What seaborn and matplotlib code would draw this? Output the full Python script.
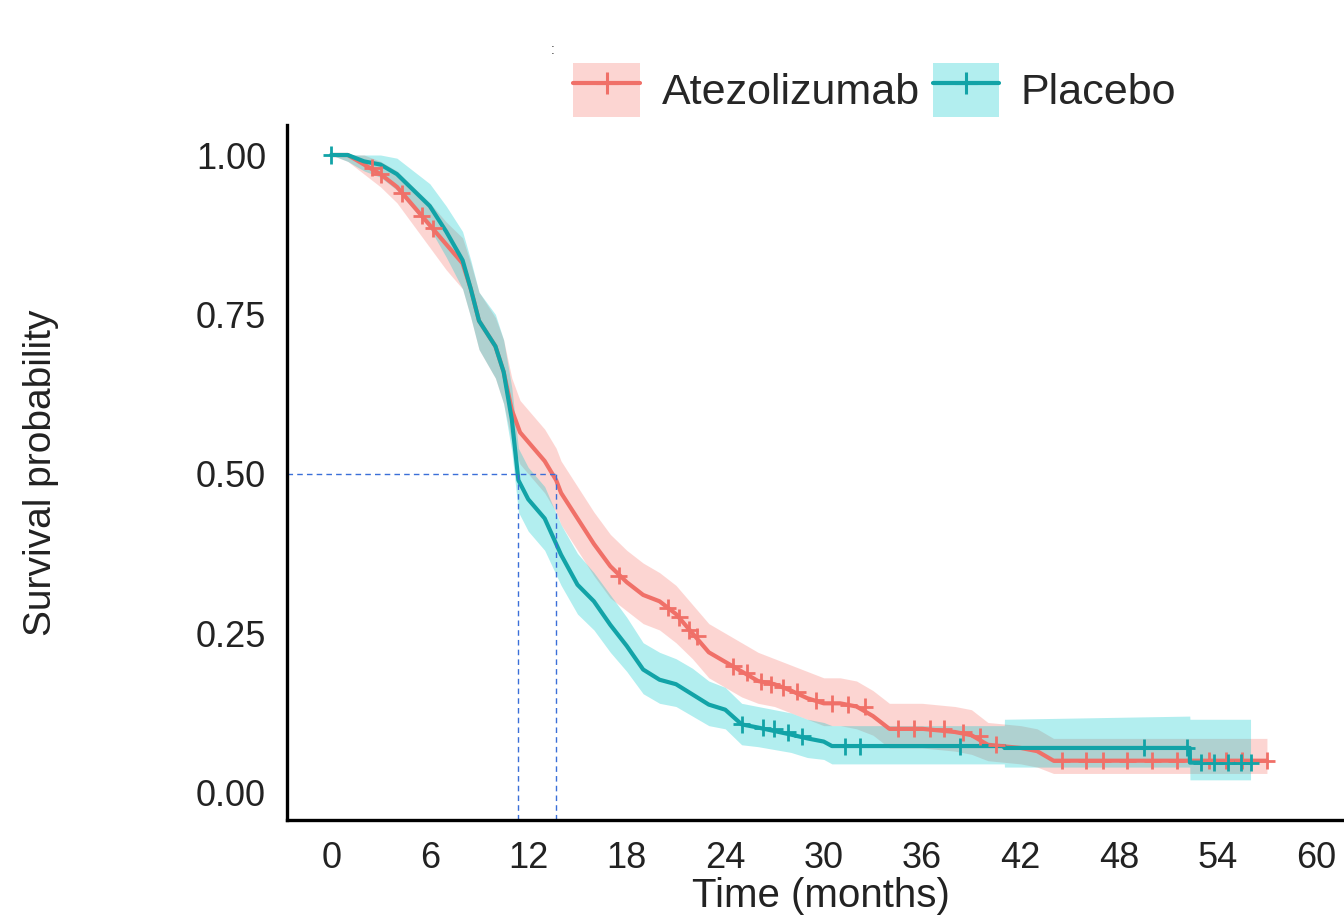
import numpy as np
import pandas as pd
import matplotlib
matplotlib.use("Agg")
import matplotlib.pyplot as plt
import seaborn as sns
from matplotlib.patches import Patch
from matplotlib.lines import Line2D

# --- data ---
groups = ["Atezolizumab", "Placebo"]
colors = {"Atezolizumab": "#F07068", "Placebo": "#12A3A7"}
band_colors = {"Atezolizumab": "#F8766D", "Placebo": "#00C8CC"}

atezo_t = [0, 1, 2, 3, 4, 5, 6, 7, 8, 8.5, 9, 10, 10.5, 11, 11.5, 12, 13, 13.7, 14, 15,
           16, 17, 18, 19, 20, 21, 22, 23, 24, 25, 26, 27, 28, 29, 30, 31, 32, 33, 34,
           36, 38, 39, 40, 42, 43, 44, 50, 57]
atezo_s = [1.0, 1.0, 0.985, 0.97, 0.95, 0.92, 0.89, 0.86, 0.83, 0.79, 0.74, 0.70, 0.66,
           0.60, 0.565, 0.55, 0.52, 0.49, 0.47, 0.43, 0.39, 0.355, 0.33, 0.31, 0.30, 0.28,
           0.25, 0.22, 0.205, 0.19, 0.175, 0.17, 0.16, 0.148, 0.14, 0.14, 0.135, 0.12,
           0.10, 0.10, 0.095, 0.09, 0.075, 0.07, 0.065, 0.05, 0.05, 0.05]
atezo_lo = [1.0, 0.99, 0.97, 0.95, 0.925, 0.89, 0.855, 0.82, 0.79, 0.745, 0.695, 0.65,
            0.61, 0.55, 0.515, 0.50, 0.47, 0.44, 0.42, 0.38, 0.34, 0.305, 0.285, 0.265,
            0.255, 0.235, 0.21, 0.18, 0.165, 0.15, 0.14, 0.135, 0.125, 0.115, 0.105,
            0.105, 0.10, 0.09, 0.07, 0.07, 0.065, 0.06, 0.05, 0.045, 0.04, 0.03, 0.03, 0.03]
atezo_hi = [1.0, 1.0, 1.0, 0.99, 0.975, 0.95, 0.925, 0.895, 0.87, 0.83, 0.785, 0.745,
            0.71, 0.65, 0.615, 0.60, 0.57, 0.54, 0.52, 0.48, 0.44, 0.405, 0.38, 0.36,
            0.345, 0.325, 0.295, 0.265, 0.25, 0.235, 0.22, 0.21, 0.20, 0.19, 0.18, 0.18,
            0.175, 0.16, 0.14, 0.14, 0.135, 0.13, 0.11, 0.105, 0.10, 0.085, 0.085, 0.085]

plac_t = [0, 1, 2, 3, 4, 5, 6, 7, 8, 8.5, 9, 10, 10.5, 11, 11.4, 12, 13, 14, 15, 16, 17,
          18, 19, 20, 21, 22, 23, 24, 25, 26, 28, 29, 30, 30.5, 41, 41.01, 52.3, 52.31, 56]
plac_s = [1.0, 1.0, 0.99, 0.985, 0.97, 0.945, 0.92, 0.88, 0.835, 0.79, 0.74, 0.70, 0.66,
          0.585, 0.49, 0.46, 0.43, 0.373, 0.326, 0.30, 0.263, 0.23, 0.193, 0.177, 0.17,
          0.154, 0.138, 0.13, 0.107, 0.102, 0.091, 0.085, 0.08, 0.073, 0.073, 0.07, 0.07,
          0.047, 0.047]
plac_lo = [1.0, 0.99, 0.975, 0.965, 0.945, 0.915, 0.885, 0.84, 0.79, 0.745, 0.695, 0.65,
           0.61, 0.535, 0.44, 0.41, 0.38, 0.325, 0.28, 0.255, 0.22, 0.19, 0.155, 0.14,
           0.135, 0.12, 0.105, 0.10, 0.075, 0.072, 0.063, 0.055, 0.052, 0.045, 0.045,
           0.04, 0.04, 0.02, 0.02]
plac_hi = [1.0, 1.0, 1.0, 1.0, 0.995, 0.975, 0.955, 0.92, 0.88, 0.835, 0.785, 0.75, 0.71,
           0.635, 0.54, 0.51, 0.48, 0.42, 0.375, 0.345, 0.31, 0.275, 0.235, 0.22, 0.21,
           0.195, 0.175, 0.165, 0.14, 0.135, 0.125, 0.115, 0.11, 0.105, 0.105, 0.115,
           0.12, 0.115, 0.115]

# censor marks
atezo_cens_t = [2.5, 3.0, 4.3, 5.5, 6.2, 17.5, 20.5, 21.2, 21.8, 22.3, 24.5, 25.3, 26.2,
                26.8, 27.5, 28.4, 29.5, 30.5, 31.5, 32.5, 34.5, 35.5, 36.5, 37.3, 38.5,
                39.5, 40.5, 44.5, 46, 47, 48.5, 50, 51.5, 53.5, 54.5, 55.5, 57]
atezo_cens_s = [0.98, 0.97, 0.94, 0.905, 0.885, 0.34, 0.29, 0.275, 0.255, 0.245, 0.198,
                0.188, 0.175, 0.17, 0.165, 0.158, 0.145, 0.14, 0.138, 0.135, 0.10, 0.10,
                0.10, 0.10, 0.095, 0.088, 0.075, 0.05, 0.05, 0.05, 0.05, 0.05, 0.05, 0.05,
                0.05, 0.05, 0.05]
plac_cens_t = [0, 25, 26.3, 27, 27.8, 28.7, 31.3, 32.2, 38.3, 49.5, 52.1, 53, 53.8, 54.6,
               55.4, 56]
plac_cens_s = [1.0, 0.107, 0.102, 0.10, 0.095, 0.088, 0.073, 0.073, 0.073, 0.07, 0.07,
               0.047, 0.047, 0.047, 0.047, 0.047]

medians = {"Atezolizumab": 13.7, "Placebo": 11.4}
x_ticks = [0, 6, 12, 18, 24, 30, 36, 42, 48, 54, 60]
y_ticks = [0.0, 0.25, 0.5, 0.75, 1.0]
y_ticklabels = ["0.00", "0.25", "0.50", "0.75", "1.00"]

curves = pd.concat([
    pd.DataFrame({"time": atezo_t, "surv": atezo_s, "lower": atezo_lo, "upper": atezo_hi,
                  "group": "Atezolizumab"}),
    pd.DataFrame({"time": plac_t, "surv": plac_s, "lower": plac_lo, "upper": plac_hi,
                  "group": "Placebo"}),
], ignore_index=True)
censors = pd.concat([
    pd.DataFrame({"time": atezo_cens_t, "surv": atezo_cens_s, "group": "Atezolizumab"}),
    pd.DataFrame({"time": plac_cens_t, "surv": plac_cens_s, "group": "Placebo"}),
], ignore_index=True)

# --- plot ---
sns.set_style("white")
plt.rcParams["font.family"] = ["Liberation Sans", "DejaVu Sans"]

fig = plt.figure(figsize=(13.44, 9.16), dpi=100)
ax = fig.add_axes([0.2135, 0.1048, 0.800, 0.7587])

for g in groups:
    d = curves[curves["group"] == g]
    ax.fill_between(d["time"], d["lower"], d["upper"], color=band_colors[g], alpha=0.3,
                    lw=0)

sns.lineplot(data=curves, x="time", y="surv", hue="group", palette=colors,
             estimator=None, sort=False, lw=3, legend=False, ax=ax)
sns.scatterplot(data=censors, x="time", y="surv", hue="group", palette=colors,
                marker="+", s=150, linewidth=2, legend=False, ax=ax, zorder=3)

# median lines
ax.hlines(0.5, -2.7, max(medians.values()), colors="#3a6fd8", linestyles=(0, (4, 3)),
          lw=1)
for g in groups:
    ax.vlines(medians[g], -0.043, 0.5, colors="#3a6fd8", linestyles=(0, (4, 3)), lw=1)

ax.set_xlim(-2.7, 62.8)
ax.set_ylim(-0.043, 1.047)
ax.set_xticks(x_ticks)
ax.set_yticks(y_ticks)
ax.set_yticklabels(y_ticklabels)
ax.tick_params(axis="both", labelsize=26, length=8, width=1.5, color="black",
               labelcolor="#222222")
ax.tick_params(axis="x", pad=7)
ax.tick_params(axis="y", pad=7)
sns.despine(ax=ax)
for sp in ["left", "bottom"]:
    ax.spines[sp].set_linewidth(2.4)
    ax.spines[sp].set_color("black")

ax.set_xlabel("Time (months)", fontsize=29, color="#222222")
ax.set_ylabel("Survival probability", fontsize=28, color="#222222")
ax.xaxis.set_label_coords(0.497, -0.082)
ax.yaxis.set_label_coords(-0.212, 0.5)

handles = []
for g in groups:
    handles.append((Patch(facecolor=band_colors[g], alpha=0.3, lw=0),
                    Line2D([], [], color=colors[g], lw=3, marker="+", ms=16, mew=2.2)))
fig.legend(handles, groups, loc="center", bbox_to_anchor=(0.651, 0.902), ncol=2,
           frameon=False, fontsize=31, handlelength=1.55, handleheight=1.55,
           columnspacing=0.3, handletextpad=0.5)
fig.text(0.411, 0.945, ":", fontsize=10, color="#444444", ha="center", va="center")

fig.savefig("out.png", dpi=100)
